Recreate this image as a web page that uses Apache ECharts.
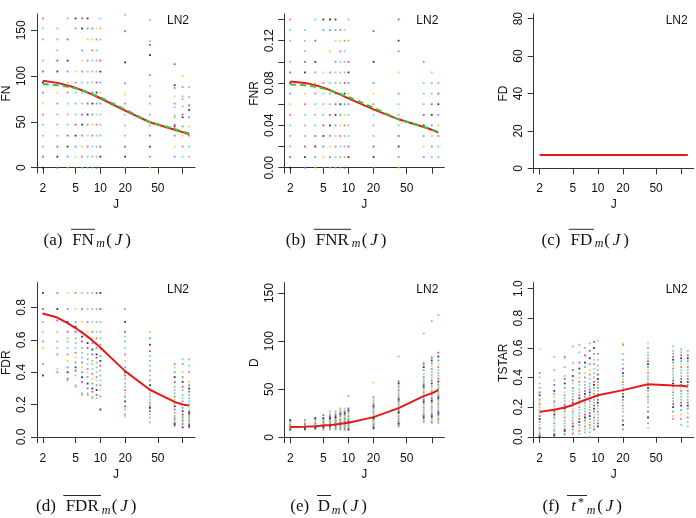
<!DOCTYPE html>
<html><head><meta charset="utf-8">
<script src="https://cdn.jsdelivr.net/npm/echarts@6/dist/echarts.min.js"></script>
<style>html,body{margin:0;padding:0;background:#fff}#c{width:696px;height:518px}</style>
</head><body><div id="c"></div>
<script>
// ---------- data ----------
const J = [2,3,4,5,6,7,8,9,10,20,40,80,100,120];
const xTickJ = [2,5,10,20,50,100];
const xLabelJ = [2,5,10,20,50];

const fnRed   = [94.9,92.6,89.8,87.2,84.5,82.0,79.8,77.7,75.8,62.3,49.6,41.5,38.8,36.5];
const fnGreen = [91.3,90.0,88.3,86.5,84.3,82.3,80.3,78.5,76.8,63.5,49.8,42.3,39.5,37.3];
const fnrRed   = [0.0815,0.0800,0.0780,0.0756,0.0733,0.0710,0.0690,0.0672,0.0655,0.0551,0.0457,0.0384,0.0358,0.0331];
const fnrGreen = [0.0787,0.0778,0.0765,0.0747,0.0728,0.0710,0.0694,0.0680,0.0668,0.0567,0.0457,0.0388,0.0362,0.0337];
const fdRed   = [7.1,7.1,7.1,7.1,7.1,7.1,7.1,7.1,7.1,7.1,7.1,7.1,7.1,7.1];
const fdrRed  = [0.763,0.738,0.703,0.673,0.645,0.620,0.596,0.573,0.553,0.407,0.292,0.217,0.201,0.194];
const dRed    = [10.7,11.0,11.6,12.3,12.8,13.4,14.0,14.6,15.2,21.0,30.4,42.8,45.8,49.2];
const tstarRed= [0.168,0.183,0.198,0.215,0.233,0.248,0.260,0.270,0.280,0.315,0.354,0.346,0.344,0.339];

const fnDots = [
 [0,12,23,35,47,58,70,82,93,105,117,140,152,163],
 [0,12,23,35,47,58,70,82,93,105,117,128,140,152],
 [0,12,23,35,47,58,70,82,93,105,117,140,163],
 [0,12,23,35,47,58,70,82,93,105,152,163],
 [0,12,23,35,47,58,70,82,93,105,117,128,152,163],
 [0,12,23,35,47,58,70,82,93,105,117,140,152,163],
 [0,12,23,35,47,58,70,82,93,105,117,128,140,152],
 [0,12,23,35,47,58,70,82,93,105,117,128,140,152],
 [12,23,35,47,58,70,82,93,105,117,140,152,163],
 [0,12,23,35,46,58,70,80,92,115,149,167],
 [0,12,23,35,46,58,70,78,89,101,123,134,138,161],
 [12,23,35,45,47,55,57,66,70,78,87,90,113],
 [12,23,35,45,55,58,67,75,78,88,100],
 [12,23,35,45,55,63,68,77,88]
];
const fnrDots = [
 [0,0.01,0.02,0.03,0.04,0.05,0.06,0.07,0.08,0.09,0.10,0.12,0.13,0.14],
 [0,0.01,0.02,0.03,0.04,0.05,0.06,0.07,0.08,0.09,0.10,0.11,0.12,0.13],
 [0,0.01,0.02,0.03,0.04,0.05,0.06,0.07,0.08,0.09,0.10,0.12,0.14],
 [0,0.01,0.02,0.03,0.04,0.05,0.06,0.07,0.08,0.09,0.13,0.14],
 [0,0.01,0.02,0.03,0.04,0.05,0.06,0.07,0.08,0.09,0.11,0.13,0.14],
 [0,0.01,0.02,0.03,0.04,0.05,0.06,0.07,0.08,0.09,0.10,0.12,0.13,0.14],
 [0,0.01,0.02,0.03,0.04,0.05,0.06,0.07,0.08,0.09,0.10,0.11,0.12,0.13],
 [0,0.01,0.02,0.03,0.04,0.05,0.06,0.07,0.08,0.09,0.10,0.11,0.12,0.13],
 [0.01,0.02,0.03,0.04,0.05,0.06,0.07,0.08,0.09,0.10,0.12,0.14],
 [0,0.01,0.02,0.03,0.04,0.05,0.06,0.07,0.08,0.10,0.129],
 [0,0.01,0.02,0.03,0.04,0.05,0.06,0.07,0.09,0.11,0.12,0.14],
 [0.01,0.02,0.03,0.04,0.05,0.06,0.07,0.08,0.10],
 [0.01,0.02,0.03,0.04,0.05,0.06,0.07,0.08,0.09],
 [0.01,0.02,0.03,0.04,0.05,0.06,0.07,0.08]
];
const fdrDots = [
 [0.89,0.79,0.76,0.71,0.65,0.59,0.55,0.45,0.38],
 [0.89,0.79,0.72,0.65,0.59,0.55,0.51,0.42,0.40],
 [0.89,0.79,0.71,0.65,0.61,0.59,0.55,0.51,0.47,0.43,0.40,0.36,0.35],
 [0.89,0.79,0.71,0.68,0.65,0.61,0.58,0.55,0.52,0.49,0.46,0.43,0.41,0.38,0.32,0.31],
 [0.89,0.79,0.71,0.65,0.62,0.59,0.55,0.52,0.49,0.46,0.43,0.40,0.37,0.34,0.27,0.26],
 [0.89,0.79,0.71,0.65,0.62,0.58,0.55,0.51,0.48,0.45,0.42,0.40,0.37,0.33,0.30,0.27,0.26],
 [0.89,0.79,0.71,0.65,0.61,0.58,0.54,0.51,0.47,0.45,0.42,0.39,0.36,0.33,0.30,0.28,0.25,0.24],
 [0.89,0.79,0.71,0.65,0.61,0.58,0.55,0.51,0.49,0.46,0.43,0.40,0.37,0.35,0.32,0.29,0.26,0.24],
 [0.89,0.79,0.71,0.65,0.61,0.57,0.54,0.50,0.47,0.44,0.41,0.38,0.35,0.32,0.29,0.25,0.17],
 [0.79,0.71,0.65,0.62,0.59,0.55,0.51,0.47,0.43,0.40,0.38,0.36,0.33,0.31,0.29,0.27,0.25,0.22,0.19,0.17,0.14,0.13],
 [0.65,0.61,0.57,0.53,0.50,0.47,0.44,0.41,0.38,0.35,0.32,0.29,0.27,0.25,0.23,0.21,0.20,0.19,0.18,0.16,0.14,0.12,0.09],
 [0.45,0.43,0.40,0.37,0.34,0.31,0.29,0.27,0.25,0.23,0.21,0.19,0.17,0.15,0.13,0.12,0.11,0.10,0.09,0.08,0.07],
 [0.48,0.45,0.40,0.37,0.34,0.31,0.29,0.26,0.24,0.22,0.20,0.18,0.16,0.14,0.13,0.12,0.11,0.10,0.09,0.08,0.06],
 [0.48,0.44,0.40,0.34,0.32,0.30,0.28,0.26,0.24,0.22,0.20,0.18,0.16,0.15,0.14,0.13,0.12,0.11,0.10,0.09,0.08,0.07,0.06]
];
const dDots = [
 [8,9,10,11,12,13,14,16,18],
 [8,9,10,11,12,13,14,16,18],
 [8,9,10,11,12,13,14,15,16,18,20],
 [8,9,10,11,12,13,14,15,16,17,18,20,23],
 [8,9,10,11,12,13,14,15,16,17,18,19,20,22,24,27],
 [8,9,10,11,12,13,14,15,16,17,18,19,20,21,23,25,27],
 [8,9,10,11,12,13,14,15,16,17,18,19,20,22,24,26,28,30],
 [8,9,10,11,12,13,14,15,16,17,18,19,20,21,23,25,27,30],
 [8,9,10,11,12,13,14,15,16,17,18,19,20,22,24,26,28,30,43],
 [9,10,12,13,14,15,17,18,19,20,21,22,24,25,27,28,30,32,34,36,38,40,42,57],
 [11,12,14,16,18,19,20,22,23,25,26,28,29,31,32,34,36,37,39,41,43,45,47,49,51,53,56,58,84],
 [16,17,19,21,23,25,27,29,31,33,35,37,39,41,43,45,47,49,51,53,55,57,59,61,63,66,70,73,76,78,108],
 [15,16,18,20,22,24,26,28,30,32,34,36,38,40,42,44,46,48,50,53,56,59,62,65,68,71,74,77,80,83,121],
 [15,17,19,21,23,25,27,29,31,33,35,37,39,41,43,45,47,49,51,53,55,58,61,64,67,70,73,76,80,84,88,127]
];
const tstarDots = [
 [0.00,0.01,0.02,0.03,0.05,0.06,0.08,0.10,0.12,0.14,0.16,0.18,0.20,0.22,0.23,0.25,0.28,0.30,0.33,0.36,0.40,0.43,0.59],
 [0.00,0.01,0.02,0.04,0.05,0.07,0.09,0.11,0.13,0.15,0.17,0.19,0.21,0.23,0.24,0.27,0.29,0.31,0.35,0.38,0.45,0.54],
 [0.01,0.02,0.04,0.05,0.07,0.09,0.11,0.13,0.15,0.17,0.19,0.21,0.22,0.24,0.26,0.28,0.30,0.33,0.36,0.39,0.41,0.47,0.53,0.54],
 [0.02,0.03,0.05,0.07,0.09,0.11,0.13,0.15,0.17,0.19,0.21,0.23,0.25,0.27,0.29,0.31,0.33,0.36,0.38,0.41,0.45,0.50,0.61],
 [0.02,0.04,0.06,0.08,0.10,0.12,0.14,0.16,0.18,0.20,0.22,0.24,0.26,0.28,0.30,0.32,0.35,0.37,0.40,0.43,0.46,0.50,0.57,0.62],
 [0.03,0.05,0.07,0.09,0.11,0.13,0.15,0.17,0.19,0.21,0.23,0.25,0.27,0.29,0.31,0.33,0.35,0.37,0.40,0.43,0.47,0.50,0.55,0.60],
 [0.00,0.03,0.06,0.08,0.10,0.12,0.14,0.16,0.18,0.20,0.22,0.24,0.26,0.28,0.30,0.32,0.34,0.36,0.39,0.42,0.45,0.49,0.53,0.58,0.63],
 [0.05,0.07,0.09,0.11,0.13,0.15,0.17,0.19,0.21,0.23,0.25,0.27,0.29,0.31,0.33,0.35,0.37,0.40,0.43,0.46,0.49,0.52,0.56,0.60,0.64],
 [0.07,0.09,0.11,0.13,0.15,0.17,0.19,0.21,0.23,0.25,0.27,0.29,0.31,0.33,0.35,0.37,0.39,0.42,0.45,0.48,0.52,0.56,0.65],
 [0.05,0.08,0.11,0.14,0.17,0.19,0.21,0.23,0.25,0.27,0.29,0.31,0.33,0.35,0.37,0.39,0.41,0.43,0.46,0.49,0.52,0.56,0.62,0.63],
 [0.06,0.09,0.13,0.17,0.20,0.23,0.25,0.27,0.29,0.31,0.33,0.35,0.37,0.39,0.41,0.43,0.45,0.47,0.49,0.51,0.53,0.55,0.57,0.60,0.63],
 [0.12,0.14,0.17,0.20,0.22,0.24,0.26,0.28,0.30,0.32,0.34,0.36,0.38,0.40,0.42,0.44,0.46,0.48,0.50,0.52,0.54,0.56,0.58,0.61],
 [0.08,0.12,0.15,0.18,0.21,0.23,0.25,0.27,0.29,0.31,0.33,0.35,0.37,0.39,0.41,0.43,0.45,0.47,0.49,0.51,0.53,0.55,0.57,0.59],
 [0.07,0.10,0.13,0.16,0.19,0.21,0.23,0.25,0.27,0.29,0.31,0.33,0.35,0.37,0.39,0.41,0.43,0.45,0.47,0.49,0.51,0.53,0.55,0.58]
];

const fnTicks = [0,50,100,150];
const fnrTicks = [0,0.02,0.04,0.06,0.08,0.10,0.12,0.14];
const fnrLabels = [0,0.04,0.08,0.12];
const fdTicks = [0,20,40,60,80];
const fdrTicks = [0,0.2,0.4,0.6,0.8];
const dTicks = [0,50,100,150];
const tstarTicks = [0,0.2,0.4,0.6,0.8,1.0];

// ---------- layout / style ----------
const SANS = '"Liberation Sans", Arial, sans-serif';
const SERIF = '"Liberation Serif", "DejaVu Serif", serif';
const PAL = ['#000000','#DF536B','#61D04F','#2297E6','#28E2E5','#CD0BBC','#F5C710','#9E9E9E'];
const RED = '#e3191c', GREEN = '#3fc23a';
const lg = Math.log10;
const XMIN = lg(2) - 0.04*(lg(120)-lg(2)), XMAX = lg(120) + 0.04*(lg(120)-lg(2));

const panels = [
 {left:35,    top:14,    h:159, ymin:-5.8,  ymax:167.8, ticks:fnTicks,   labels:fnTicks,   dec:0, name:'FN',    dots:fnDots,   red:fnRed,   green:fnGreen},
 {left:284.3, top:14,    h:159, ymin:-0.005,ymax:0.1452,ticks:fnrTicks,  labels:fnrLabels, dec:2, name:'FNR',   dots:fnrDots,  red:fnrRed,  green:fnrGreen},
 {left:533.7, top:14,    h:159, ymin:-2.5,  ymax:82.5,  ticks:fdTicks,   labels:fdTicks,   dec:0, name:'FD',    dots:null,     red:fdRed},
 {left:35,    top:282.7, h:160, ymin:-0.035,ymax:0.953, ticks:fdrTicks,  labels:fdrTicks,  dec:1, name:'FDR',   dots:fdrDots,  red:fdrRed},
 {left:284.3, top:282.7, h:160, ymin:-5.6,  ymax:160.8, ticks:dTicks,    labels:dTicks,    dec:0, name:'D',     dots:dDots,    red:dRed},
 {left:533.7, top:282.7, h:160, ymin:-0.04, ymax:1.04,  ticks:tstarTicks,labels:tstarTicks,dec:1, name:'TSTAR', dots:tstarDots,red:tstarRed}
];

const grid=[], xAxis=[], yAxis=[], series=[], graphic=[];
panels.forEach((p,k)=>{
  grid.push({left:p.left, top:p.top, width:160, height:p.h, containLabel:false});
  xAxis.push({type:'value', gridIndex:k, min:XMIN, max:XMAX,
    name:'J', nameLocation:'middle', nameGap:26,
    nameTextStyle:{fontFamily:SANS, fontSize:12, color:'#111'},
    axisLine:{show:true, lineStyle:{color:'#333', width:1}},
    axisTick:{show:true, inside:false, length:6, lineStyle:{color:'#333'}, customValues:xTickJ.map(lg)},
    axisLabel:{show:true, margin:10, fontFamily:SANS, fontSize:12, color:'#111',
      customValues:xLabelJ.map(lg), formatter:v=>String(Math.round(Math.pow(10,v)))},
    splitLine:{show:false}});
  yAxis.push({type:'value', gridIndex:k, min:p.ymin, max:p.ymax,
    name:p.name, nameLocation:'middle', nameGap:24, nameRotate:90,
    nameTextStyle:{fontFamily:SANS, fontSize:12, color:'#111'},
    axisLine:{show:true, lineStyle:{color:'#333', width:1}},
    axisTick:{show:true, inside:false, length:6, lineStyle:{color:'#333'}, customValues:p.ticks},
    axisLabel:{show:true, rotate:90, margin:9, fontFamily:SANS, fontSize:12, color:'#111',
      customValues:p.labels, formatter:v=>Number(v).toFixed(p.dec)},
    splitLine:{show:false}});
  if (p.dots) {
    const data=[];
    p.dots.forEach((col,i)=>col.forEach((v,m)=>{
      data.push({value:[lg(J[i]), v], itemStyle:{color:PAL[(i*3+m*5)%8]}});
    }));
    series.push({type:'scatter', xAxisIndex:k, yAxisIndex:k, data, symbol:'rect', symbolSize:1.8,
      itemStyle:{opacity:0.8}, silent:true, z:2});
  }
  series.push({type:'line', xAxisIndex:k, yAxisIndex:k, data:J.map((j,i)=>[lg(j), p.red[i]]),
    symbol:'none', lineStyle:{color:RED, width:2}, z:3, silent:true});
  if (p.green) {
    series.push({type:'line', xAxisIndex:k, yAxisIndex:k, data:J.map((j,i)=>[lg(j), p.green[i]]),
      symbol:'none', lineStyle:{color:GREEN, width:2, type:[6,4]}, z:4, silent:true});
  }
  graphic.push({type:'text', x:p.left+160-6, y:p.top+7, style:{text:'LN2', font:'12px '+SANS, fill:'#111', align:'right', verticalAlign:'middle'}});
});

// captions
function cap(y, ol, parts){
  graphic.push({type:'line', shape:{x1:ol[0], y1:y-11.5, x2:ol[1], y2:y-11.5}, style:{stroke:'#111', lineWidth:0.9}});
  parts.forEach(([t,x,kind])=>{
    let st={fill:'#111', align:'center', verticalAlign:'middle'}, yy=y;
    if(kind==='r'){st.text=t; st.font='17px '+SERIF;}
    else if(kind==='sub'){st.text=t; st.font='italic 12px '+SERIF; yy=y+3.5;}
    else if(kind==='sup'){st.text=t; st.font='12px '+SERIF; yy=y-4.5;}
    else if(kind==='it'){st.text=t; st.font='italic 17px '+SERIF;}
    if(kind==='j'){
      // "(J)" spanning x .. x+25
      graphic.push({type:'text', x:x+3, y:yy, style:{text:'(', font:'17px '+SERIF, fill:'#111', align:'center', verticalAlign:'middle'}});
      graphic.push({type:'text', x:x+12.5, y:yy, style:{text:'J', font:'italic 17px '+SERIF, fill:'#111', align:'center', verticalAlign:'middle'}});
      graphic.push({type:'text', x:x+22, y:yy, style:{text:')', font:'17px '+SERIF, fill:'#111', align:'center', verticalAlign:'middle'}});
      return;
    }
    graphic.push({type:'text', x:x, y:yy, style:st});
  });
}
cap(240.8,[71,95],    [['(a)',53,'r'],['FN',83,'r'],['m',100.5,'sub'],['',106,'j']]);
cap(240.8,[313.7,351],[['(b)',295.7,'r'],['FNR',332.3,'r'],['m',356.2,'sub'],['',361.5,'j']]);
cap(240.8,[568.7,594],[['(c)',551,'r'],['FD',581.3,'r'],['m',599,'sub'],['',604,'j']]);
cap(507,[63.3,101],   [['(d)',46,'r'],['FDR',82.2,'r'],['m',106,'sub'],['',111.5,'j']]);
cap(507,[317,331],    [['(e)',299.8,'r'],['D',324,'r'],['m',336,'sub'],['',342,'j']]);
cap(507,[567,587],    [['(f)',551,'r'],['t',573.5,'it'],['*',581,'sup'],['m',591,'sub'],['',597,'j']]);

const chart = echarts.init(document.getElementById('c'), null, {renderer:'canvas'});
chart.setOption({animation:false, backgroundColor:'#fff', grid, xAxis, yAxis, series, graphic});
</script></body></html>
